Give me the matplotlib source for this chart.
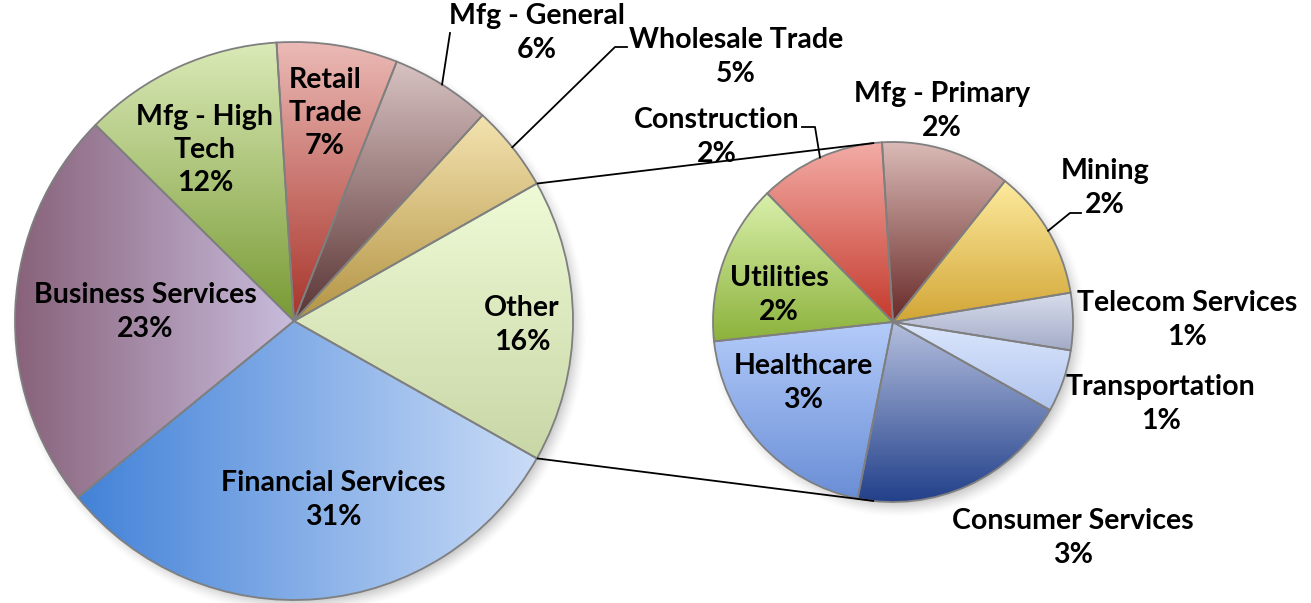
import numpy as np
import matplotlib
matplotlib.use("Agg")
import matplotlib.pyplot as plt
from matplotlib.colors import to_rgb

# ---------------- data ----------------
main_labels = ["Other", "Wholesale Trade", "Mfg - General", "Retail\nTrade",
               "Mfg - High\nTech", "Business Services", "Financial Services"]
sub_labels = ["Mfg - Primary", "Mining", "Telecom Services", "Transportation",
              "Consumer Services", "Healthcare", "Utilities", "Construction"]
sub_values = [1.91, 1.92, 0.84, 0.92, 3.28, 3.30, 2.36, 1.86]
main_values = [sum(sub_values), 5.0, 5.8, 7.0, 11.6, 23.3, 30.9]

# ---------------- style ----------------
W, H = 1311, 603
main_colors = [  # (start, end, direction)
    ("#eefbd6", "#c9d6a6", "v"),
    ("#f4e3b0", "#b39444", "v"),
    ("#d8c2c2", "#5a3434", "v"),
    ("#ebbab6", "#a8342a", "v"),
    ("#dbeab8", "#789a34", "v"),
    ("#88627a", "#c8bcdc", "h"),
    ("#4382d8", "#cadcf7", "h"),
]
sub_colors = [
    ("#dabab6", "#682a28", "v"),
    ("#fdea9e", "#d2a636", "v"),
    ("#d9deec", "#a3abc8", "v"),
    ("#dce7fc", "#b0c4ee", "v"),
    ("#b4bfde", "#22408a", "v"),
    ("#b4ccfa", "#6a8ed6", "v"),
    ("#daf0ac", "#8cb23c", "v"),
    ("#f3aca6", "#c43a2c", "v"),
]

FONT = ["Lato", "DejaVu Sans"]
FS = 20.5

fig = plt.figure(figsize=(W / 100, H / 100), dpi=100)
ax = fig.add_axes([0, 0, 1, 1])


def py(y):
    return H - y


def shadow(cx, cy, r, dx=5, dy=-6, blur=10, alpha=0.45):
    ext = r + 3 * blur
    n = 500
    xs = np.linspace(cx + dx - ext, cx + dx + ext, n)
    ys = np.linspace(cy + dy - ext, cy + dy + ext, n)
    X, Y = np.meshgrid(xs, ys)
    d = np.hypot(X - (cx + dx), Y - (cy + dy))
    a = alpha * np.clip((r + blur - d) / (2 * blur), 0, 1) ** 1.5
    img = np.zeros((n, n, 4))
    img[..., :3] = 0.35
    img[..., 3] = a
    ax.imshow(img, extent=[xs[0], xs[-1], ys[0], ys[-1]], origin="lower",
              zorder=0, interpolation="bilinear")


def grad_fill(wedge, c1, c2, direction):
    bb = wedge.get_path().get_extents()
    n = 256
    t = np.linspace(0, 1, n)
    a, b = np.array(to_rgb(c1)), np.array(to_rgb(c2))
    if direction == "h":
        row = a[None, :] * (1 - t[:, None]) + b[None, :] * t[:, None]
        img = np.tile(row[None, :, :], (8, 1, 1))
    else:
        col = b[None, :] * (1 - t[:, None]) + a[None, :] * t[:, None]
        img = np.tile(col[:, None, :], (1, 8, 1))
    im = ax.imshow(img, extent=[bb.x0, bb.x1, bb.y0, bb.y1], origin="lower",
                   zorder=2, interpolation="bilinear", aspect="auto")
    im.set_clip_path(wedge)
    wedge.set_facecolor("none")
    wedge.set_zorder(3)


mcx, mcy, mr = 294, py(321), 279
scx, scy, sr = 893, py(322), 180
shadow(mcx, mcy, mr)
shadow(scx, scy, sr)

mw, _ = ax.pie(main_values, radius=mr, center=(mcx, mcy), startangle=-29.5,
               counterclock=True,
               wedgeprops=dict(edgecolor="#7f7f7f", linewidth=1.3))
for w, (c1, c2, d) in zip(mw, main_colors):
    grad_fill(w, c1, c2, d)

sw, _ = ax.pie(sub_values, radius=sr, center=(scx, scy), startangle=93.5,
               counterclock=False,
               wedgeprops=dict(edgecolor="#7f7f7f", linewidth=1.3))
for w, (c1, c2, d) in zip(sw, sub_colors):
    grad_fill(w, c1, c2, d)

# connector lines from "Other" wedge edges to the sub pie
ow = mw[0]
for ang_main, ang_sub in ((ow.theta2, 96.0), (ow.theta1, 264.0)):
    x0 = mcx + mr * np.cos(np.radians(ang_main))
    y0 = mcy + mr * np.sin(np.radians(ang_main))
    x1 = scx + sr * np.cos(np.radians(ang_sub))
    y1 = scy + sr * np.sin(np.radians(ang_sub))
    ax.plot([x0, x1], [y0, y1], color="black", lw=1.3, zorder=4,
            solid_capstyle="butt")

# ---------------- labels ----------------
main_pos = {
    "Other": (522, 325), "Wholesale Trade": (736, 57), "Mfg - General": (537, 33),
    "Retail\nTrade": (325, 113), "Mfg - High\nTech": (205, 150),
    "Business Services": (145, 312), "Financial Services": (333, 500),
}
sub_pos = {
    "Mfg - Primary": (942, 111), "Mining": (1105, 188),
    "Telecom Services": (1187, 320), "Transportation": (1161, 404),
    "Consumer Services": (1073, 538), "Healthcare": (803, 383),
    "Utilities": (779, 295), "Construction": (717, 137),
}
leaders = {
    "Mfg - General": [(450, 33)],
    "Wholesale Trade": [(615, 47), (627, 47)],
    "Construction": [(815, 127), (802, 127)],
    "Mining": [(1070, 213), (1081, 213)],
}


def put_label(name, val, pos):
    ax.text(pos[0], py(pos[1]), f"{name}\n{val:.0f}%", ha="center", va="center",
            fontsize=FS, fontweight="bold", family=FONT, linespacing=1.34,
            zorder=6)


def leader(w, cx, cy, r, pts):
    mid = np.radians((w.theta1 + w.theta2) / 2)
    xs = [cx + r * np.cos(mid)] + [p[0] for p in pts]
    ys = [cy + r * np.sin(mid)] + [py(p[1]) for p in pts]
    ax.plot(xs, ys, color="black", lw=1.3, zorder=4)


for w, name, val in zip(mw, main_labels, main_values):
    put_label(name, val, main_pos[name])
    if name in leaders:
        leader(w, mcx, mcy, mr, leaders[name])
for w, name, val in zip(sw, sub_labels, sub_values):
    put_label(name, val, sub_pos[name])
    if name in leaders:
        leader(w, scx, scy, sr, leaders[name])

ax.set_xlim(0, W)
ax.set_ylim(0, H)
ax.set_aspect("auto")
ax.axis("off")
fig.savefig("out.png", dpi=100, facecolor="white")
